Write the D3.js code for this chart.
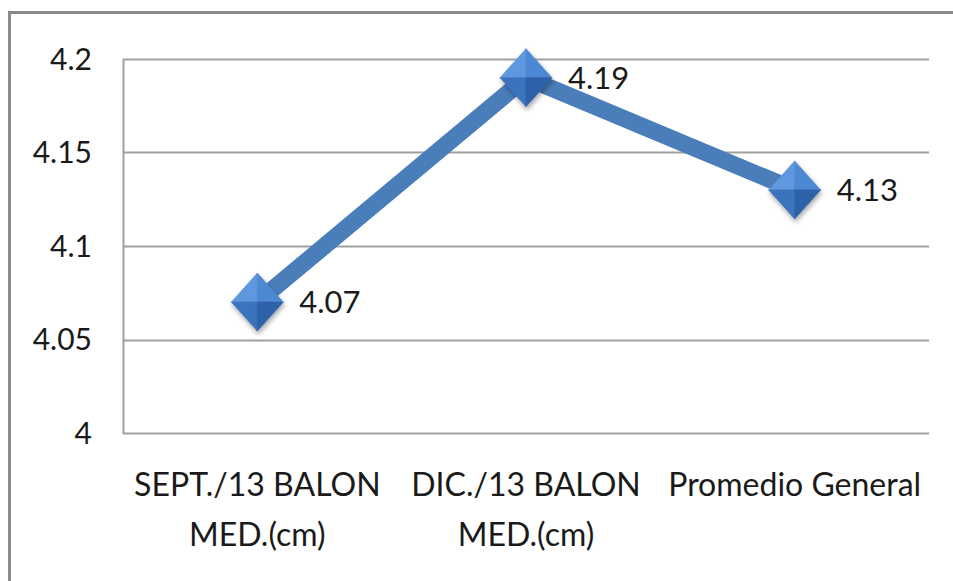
<!DOCTYPE html>
<html>
<head>
<meta charset="utf-8">
<script src="https://cdn.jsdelivr.net/npm/d3@7"></script>
<style>
html,body{margin:0;padding:0;background:#fff;}
svg{display:block;}
text{font-family:"Lato","Noto Sans",sans-serif;fill:#1a1a1a;}
</style>
</head>
<body>
<svg id="chart" width="953" height="581"></svg>
<script>
const categories = [["SEPT./13 BALON","MED.(cm)"],["DIC./13 BALON","MED.(cm)"],["Promedio General"]];
const values = [4.07, 4.19, 4.13];
const yTicks = [4, 4.05, 4.1, 4.15, 4.2];
const yTickLabels = ["4", "4.05", "4.1", "4.15", "4.2"];
const valueLabels = ["4.07", "4.19", "4.13"];

const svg = d3.select("#chart");
const W = 953, H = 581;
const m = {left:123, right:24, top:59, bottom:148};

// outer border
svg.append("rect").attr("x",9.5).attr("y",12.5).attr("width",W+20).attr("height",H+20)
  .attr("fill","none").attr("stroke","#8a8a8a").attr("stroke-width",3);

const x = d3.scaleBand().domain(d3.range(categories.length)).range([m.left, W-m.right]);
const y = d3.scaleLinear().domain([4,4.2]).range([H-m.bottom, m.top]);

const defs = svg.append("defs");
const f = defs.append("filter").attr("id","sh").attr("x","-50%").attr("y","-50%").attr("width","200%").attr("height","200%");
f.append("feDropShadow").attr("dx",1).attr("dy",3).attr("stdDeviation",2.5).attr("flood-color","#000").attr("flood-opacity",0.35);

// gridlines
svg.append("g").selectAll("line").data(yTicks).join("line")
  .attr("x1",m.left).attr("x2",W-m.right)
  .attr("y1",d=>Math.round(y(d))+0.5).attr("y2",d=>Math.round(y(d))+0.5)
  .attr("stroke","#a0a0a0").attr("stroke-width",2);

// y axis line
svg.append("line").attr("x1",m.left+0.5).attr("x2",m.left+0.5)
  .attr("y1",y(4.2)).attr("y2",y(4)+1).attr("stroke","#a0a0a0").attr("stroke-width",2);

// y tick labels
svg.append("g").selectAll("text").data(yTicks).join("text")
  .attr("x",92).attr("y",d=>y(d)).attr("dy","0.36em").attr("text-anchor","end")
  .attr("font-size",30).text((d,i)=>yTickLabels[i]);

// x labels
const xl = svg.append("g").selectAll("text").data(categories).join("text")
  .attr("x",(d,i)=>x(i)+x.bandwidth()/2).attr("y",496).attr("text-anchor","middle")
  .attr("font-size",32);
xl.selectAll("tspan").data(d=>d).join("tspan")
  .attr("x",function(){return d3.select(this.parentNode).attr("x");})
  .attr("dy",(d,i)=>i===0?0:50).text(d=>d);

// line
const line = d3.line().x((d,i)=>x(i)+x.bandwidth()/2).y(d=>y(d));
svg.append("path").datum(values).attr("d",line).attr("fill","none")
  .attr("stroke","#4a7ebb").attr("stroke-width",17).attr("stroke-linejoin","miter");

// markers
const hw = 26, hh = 29;
const mk = svg.append("g").selectAll("g").data(values).join("g")
  .attr("transform",(d,i)=>`translate(${x(i)+x.bandwidth()/2},${y(d)})`)
  .attr("filter","url(#sh)");
const facets = [
  {p:[[0,-hh],[-hw,0],[0,0]], c:"#5e98de"},
  {p:[[0,-hh],[hw,0],[0,0]], c:"#4d89d3"},
  {p:[[-hw,0],[0,hh],[0,0]], c:"#3b73bd"},
  {p:[[hw,0],[0,hh],[0,0]], c:"#2f62a8"}
];
mk.selectAll("path").data(facets).join("path")
  .attr("d",d=>"M"+d.p.map(q=>q.join(",")).join("L")+"Z")
  .attr("fill",d=>d.c).attr("stroke",d=>d.c).attr("stroke-width",0.6);

// value labels
svg.append("g").selectAll("text").data(values).join("text")
  .attr("x",(d,i)=>x(i)+x.bandwidth()/2+42).attr("y",d=>y(d)).attr("dy","0.36em")
  .attr("font-size",31).text((d,i)=>valueLabels[i]);
</script>
</body>
</html>
